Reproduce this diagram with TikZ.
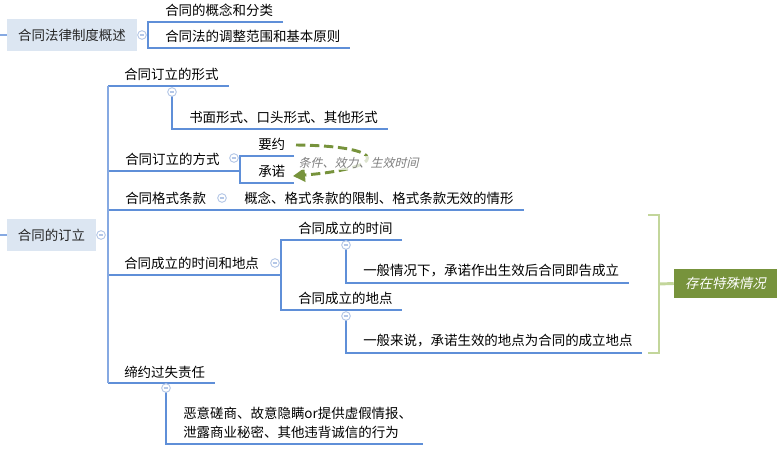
\documentclass[tikz,border=0pt]{standalone}
\usepackage{fontspec}
\newfontfamily\cjk{Noto Sans CJK SC}
\newfontfamily\cjkit[FakeSlant=0.22]{Noto Sans CJK SC}
\usetikzlibrary{arrows.meta,calc}
\definecolor{lineblue}{HTML}{5F8FD8}
\definecolor{rootline}{HTML}{86A9E2}
\definecolor{boxfill}{HTML}{DCE6F2}
\definecolor{olive}{HTML}{77933C}
\definecolor{bracketgreen}{HTML}{C3D69B}
\definecolor{btncol}{HTML}{B4C7E7}
\definecolor{labelgray}{HTML}{7F7F7F}
\begin{document}
\begin{tikzpicture}[x=0.75pt,y=-0.75pt,
  txt/.style={inner sep=0pt,anchor=west,align=left,font=\cjk\fontsize{10.1pt}{14.25pt}\selectfont,text=black},
  rootbox/.style={fill=boxfill,inner sep=0pt,minimum height=24pt,font=\cjk\fontsize{10.1pt}{13pt}\selectfont,text=black!85},
  ln/.style={draw=lineblue,line width=0.8pt},
  rootln/.style={draw=rootline,line width=1.5pt},
  btn/.style={circle,draw=btncol,fill=white,line width=0.7pt,minimum size=6.5pt,inner sep=0pt,
    path picture={\draw[btncol,line width=0.8pt] ([xshift=-1.8pt]path picture bounding box.center) -- ([xshift=1.8pt]path picture bounding box.center);}},
  ]
\useasboundingbox (0,0) rectangle (777,456);

% ---------- first root ----------
\node[rootbox,minimum width=97.5pt] (A) at (72,35) {合同法律制度概述};
\coordinate (inA) at (0,35);
\draw[rootln,line width=0.8pt] (inA) -- (A.west);
\node[txt] (a1) at (165,10) {合同的概念和分类};
\node[txt] (a2) at (165,36) {合同法的调整范围和基本原则};
\coordinate (ja) at (148,35);
\draw[ln] (283,22) -- (148,22) -- (148,48) -- (350,48);
\node[btn] (btnA) at (142,35) {};

% ---------- second root ----------
\node[rootbox,minimum width=66.75pt] (B) at (51.5,235) {合同的订立};
\coordinate (inB) at (0,235);
\draw[rootln,line width=0.8pt] (inB) -- (B.west);
\coordinate (jbTop) at (108,86);
\coordinate (jbBot) at (108,383);

% child 1
\node[txt] (b1) at (124,74) {合同订立的形式};
\node[txt] (b11) at (189,117) {书面形式、口头形式、其他形式};
\draw[ln] (108,86) -- (229,86);
\draw[ln] (172,96) -- (172,129) -- (388,129);

% child 2
\node[txt] (b2) at (125,159) {合同订立的方式};
\node[txt] (b21) at (258,144) {要约};
\node[txt] (b22) at (258,171) {承诺};
\draw[ln] (108,171) -- (240,171);
\draw[ln] (294,156) -- (240,156) -- (240,183) -- (294,183);

% child 3
\node[txt] (b3) at (125,198) {合同格式条款};
\node[txt] (b31) at (244,198) {概念、格式条款的限制、格式条款无效的情形};
\draw[ln] (108,210) -- (524,210);

% child 4
\node[txt] (b4) at (124,263) {合同成立的时间和地点};
\node[txt] (b41) at (298,228) {合同成立的时间};
\node[txt] (b411) at (363,271) {一般情况下，承诺作出生效后合同即告成立};
\node[txt] (b42) at (298,298) {合同成立的地点};
\node[txt] (b421) at (363,341) {一般来说，承诺生效的地点为合同的成立地点};
\draw[ln] (108,275) -- (281,275);
\draw[ln] (402,240) -- (281,240) -- (281,310) -- (402,310);
\draw[ln] (346,249) -- (346,283) -- (629,283);
\draw[ln] (346,320) -- (346,353) -- (642,353);

% child 5
\node[txt] (b5) at (124,372) {缔约过失责任};
\node[txt] (b51) at (183,422.5) {恶意磋商、故意隐瞒or提供虚假情报、\\泄露商业秘密、其他违背诚信的行为};
\draw[ln] (108,383) -- (215,383);
\draw[ln] (166,392) -- (166,444) -- (423,444);

% root vertical
\draw[rootln] (jbTop) -- (jbBot);

% buttons
\node[btn] (btnB) at (101,235) {};
\node[btn] (btn1) at (172,92) {};
\node[btn] (btn2) at (234,158) {};
\node[btn] (btn3) at (222,198) {};
\node[btn] (btn4) at (275,263) {};
\node[btn] (btn41) at (346,245) {};
\node[btn] (btn42) at (346,316) {};
\node[btn] (btn5) at (166,388) {};

% relation arrow
\coordinate (rs) at (296,145);
\coordinate (re) at (293,176);
\draw[olive,line width=2.2pt,dash pattern=on 7pt off 3.5pt,
  -{Triangle[length=9pt,width=10pt]}]
  (rs) .. controls (390,146) and (390,168) .. (re);
\node[inner sep=1pt,anchor=west,fill=white,fill opacity=0.75,text opacity=1,
  text=labelgray,font=\cjkit\fontsize{9pt}{11pt}\selectfont] (rel) at (297,163) {条件、效力、生效时间};

% bracket and summary
\coordinate (brT) at (648,215);
\coordinate (brB) at (648,353);
\draw[bracketgreen,line width=2.2pt] (brT) -- (659,215) -- (659,353) -- (brB);
\node[fill=olive,inner sep=0pt,minimum width=77.25pt,minimum height=21.75pt,
  text=white,font=\cjkit\fontsize{10.1pt}{13pt}\selectfont] (S) at (725.5,283.5) {存在特殊情况};
\draw[bracketgreen,line width=2.2pt] (659,284) -- (S.west);
\end{tikzpicture}
\end{document}
